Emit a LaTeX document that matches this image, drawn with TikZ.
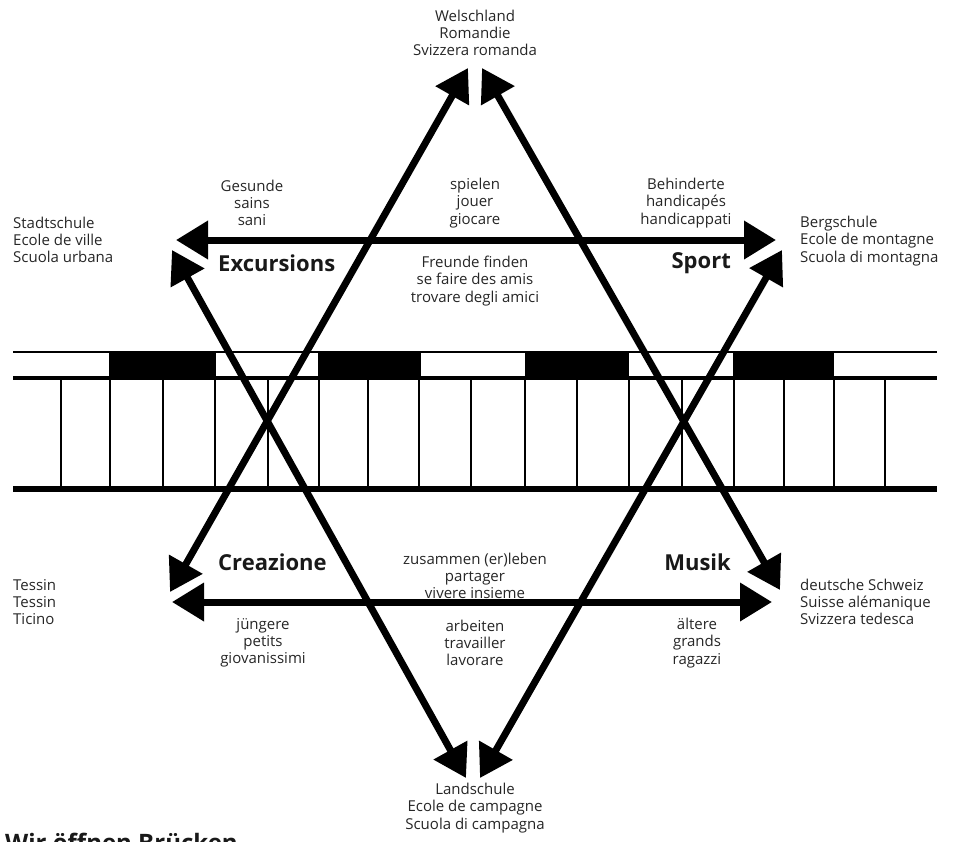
\documentclass[tikz,border=0pt]{standalone}
\usepackage{fontspec}
\setmainfont{Open Sans}
\usetikzlibrary{arrows.meta}
\begin{document}
\begin{tikzpicture}[x=1pt,y=-1pt,
  lbl/.style={align=center,inner sep=0pt,font=\fontsize{15}{17.2}\selectfont,text=black!85},
  lbll/.style={lbl,align=left,anchor=west},
  big/.style={inner sep=0pt,font=\fontsize{22}{26}\selectfont\bfseries,text=black!90},
  star/.style={line width=7pt,{Triangle[length=32pt,width=37pt]}-{Triangle[length=32pt,width=37pt]}},
  thin/.style={line width=2.3pt},
  mid/.style={line width=4.5pt},
  thick/.style={line width=6.5pt},
  divider/.style={line width=2.4pt},
  blackkey/.style={fill=black}
  ]
\useasboundingbox (0,0) rectangle (957,841);

% ---------- piano band ----------
\coordinate (bl1) at (13,352);  \coordinate (br1) at (937,352);
\coordinate (bl2) at (13,378);  \coordinate (br2) at (937,378);
\coordinate (bl3) at (13,489);  \coordinate (br3) at (937,489);
\fill[blackkey] (109,352) rectangle (216,378);
\fill[blackkey] (318,352) rectangle (421,378);
\fill[blackkey] (525,352) rectangle (629,378);
\fill[blackkey] (733,352) rectangle (834,378);
\draw[thin] (bl1) -- (br1);
\draw[mid] (bl2) -- (br2);
\draw[thick] (bl3) -- (br3);
\foreach \x in {61,110,163,215,268,319,368,419,471,525,577,629,682,734,784,834,885}
  \draw[divider] (\x,378) -- (\x,489);

% ---------- star ----------
\coordinate (tL) at (468,68);
\coordinate (tR) at (482,68);
\coordinate (hL1) at (176,240);
\coordinate (hR1) at (776,240);
\coordinate (dUL) at (172,250);
\coordinate (dUR) at (782,250);
\coordinate (dLL) at (170,592);
\coordinate (dLR) at (780,590);
\coordinate (hL2) at (172,602);
\coordinate (hR2) at (772,602);
\coordinate (bL) at (466,778);
\coordinate (bR) at (480,778);

\draw[star] (hL1) -- (hR1);
\draw[star] (hL2) -- (hR2);
\draw[star] (tL) -- (dLL);
\draw[star] (tR) -- (dLR);
\draw[star] (dUL) -- (bL);
\draw[star] (dUR) -- (bR);

% ---------- labels ----------
\node[lbl] (welsch) at (475,33) {Welschland\\Romandie\\Svizzera romanda};
\node[lbl] (gesund) at (252,203) {Gesunde\\sains\\sani};
\node[lbl] (spiel) at (475,203) {spielen\\jouer\\giocare};
\node[lbl] (behind) at (686,203) {Behinderte\\handicapés\\handicappati};
\node[lbll] (stadt) at (13,240) {Stadtschule\\Ecole de ville\\Scuola urbana};
\node[lbll] (berg) at (800,241) {Bergschule\\Ecole de montagne\\Scuola di montagna};
\node[lbl] (freund) at (475,281) {Freunde finden\\se faire des amis\\trovare degli amici};
\node[big,anchor=west] (exc) at (218,263) {Excursions};
\node[big,anchor=east] (sport) at (731,263) {Sport};
\node[big,anchor=west] (crea) at (218,562) {Creazione};
\node[big,anchor=east] (musik) at (731,562) {Musik};
\node[lbl] (zus) at (475,576) {zusammen (er)leben\\partager\\vivere insieme};
\node[lbll] (tessin) at (13,602) {Tessin\\Tessin\\Ticino};
\node[lbll] (deutsch) at (800,602) {deutsche Schweiz\\Suisse alémanique\\Svizzera tedesca};
\node[lbl] (jung) at (263,643) {jüngere\\petits\\giovanissimi};
\node[lbl] (arbeit) at (475,643) {arbeiten\\travailler\\lavorare};
\node[lbl] (alt) at (697,643) {ältere\\grands\\ragazzi};
\node[lbl] (land) at (475,808) {Landschule\\Ecole de campagne\\Scuola di campagna};
\node[big,anchor=base west,font=\fontsize{24}{28}\selectfont\bfseries] (title) at (5,851) {Wir öffnen Brücken};
\end{tikzpicture}
\end{document}
